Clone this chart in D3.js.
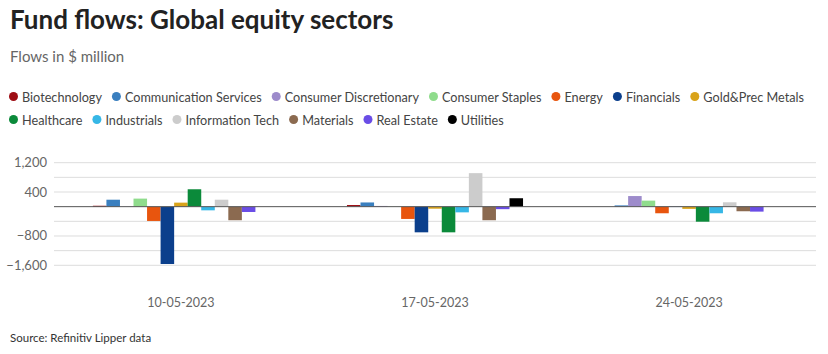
<!DOCTYPE html>
<html>
<head>
<meta charset="utf-8">
<script src="https://cdn.jsdelivr.net/npm/d3@7"></script>
<style>
  body { margin: 0; background: #fff; }
  svg text { font-family: Lato, "Open Sans", sans-serif; }
</style>
</head>
<body>
<div id="chart-area"></div>
<script>
var width = 828, height = 354;

var dates = ["10-05-2023", "17-05-2023", "24-05-2023"];
var sectors = ["Biotechnology", "Communication Services", "Consumer Discretionary", "Consumer Staples",
  "Energy", "Financials", "Gold&Prec Metals", "Healthcare", "Industrials", "Information Tech",
  "Materials", "Real Estate", "Utilities"];
var colors = ["#9e0d14", "#3a7fbf", "#9d8bcb", "#8fdc8c", "#e8550e", "#0b3f8c", "#d9a31a",
  "#0b8a3a", "#36b7e6", "#cccccc", "#8b6a50", "#6a4de6", "#000000"];

// flows in $ million, one value per date
var biotech     = [25, 45, 0];
var commServ    = [190, 115, 35];
var consDisc    = [5, 20, 290];
var consStaples = [220, -5, 165];
var energy      = [-390, -335, -180];
var financials  = [-1565, -700, -10];
var gold        = [110, -55, -60];
var healthcare  = [475, -700, -410];
var industrials = [-100, -155, -180];
var infoTech    = [190, 915, 120];
var materials   = [-370, -370, -125];
var realEstate  = [-145, -68, -135];
var utilities   = [0, 230, 0];

var gridTicks = [1200, 800, 400, 0, -400, -800, -1200, -1600];
var labelTicks = [1200, 400, -800, -1600];

var series = [biotech, commServ, consDisc, consStaples, energy, financials, gold,
  healthcare, industrials, infoTech, materials, realEstate, utilities];

var data = [];
dates.forEach((d, i) => {
  sectors.forEach((s, j) => {
    data.push({date: d, sector: s, value: series[j][i]});
  });
});

var svg = d3.select("#chart-area").append("svg")
  .attr("width", width)
  .attr("height", height);

// title + subtitle
svg.append("text").attr("x", 10).attr("y", 29)
  .attr("font-size", 26).attr("font-weight", 700).attr("fill", "#222")
  .text("Fund flows: Global equity sectors");
svg.append("text").attr("x", 10).attr("y", 62)
  .attr("font-size", 15).attr("fill", "#666")
  .text("Flows in $ million");

// legend (two rows, break before Healthcare), font shrunk so row 1 ends ~805
var color = d3.scaleOrdinal().domain(sectors).range(colors);
var probe = svg.append("text").attr("font-size", 14);
var row1 = 0;
sectors.slice(0, 7).forEach(s => { row1 += probe.text(s).node().getComputedTextLength(); });
probe.remove();
var fixed = 7 * 13 + 6 * 10;
var fs = 14 * Math.min(1, (796 - fixed) / row1);

var lx = 9, ly = 97;
sectors.forEach((s, i) => {
  if (i == 7) { lx = 9; ly = 120; }
  var g = svg.append("g").attr("transform", "translate(" + lx + "," + ly + ")");
  g.append("circle").attr("cx", 4.5).attr("cy", -0.5).attr("r", 4.5).attr("fill", color(s));
  var t = g.append("text").attr("x", 13).attr("y", 5)
    .attr("font-size", fs).attr("fill", "#444").text(s);
  lx += 13 + t.node().getComputedTextLength() + 10;
});

var x0 = d3.scaleBand()
  .domain(dates)
  .range([54, 816])
  .paddingInner(0.307)
  .paddingOuter(0.153);

var x1 = d3.scaleBand()
  .domain(sectors)
  .range([0, x0.bandwidth()]);

var y = d3.scaleLinear()
  .domain([-1600, 1200])
  .range([265.3, 162.7]);

// grid
svg.append("g").selectAll("line")
  .data(gridTicks.filter(d => d != 0))
  .enter().append("line")
  .attr("x1", 54).attr("x2", 816)
  .attr("y1", d => y(d)).attr("y2", d => y(d))
  .attr("stroke", "#dddddd").attr("stroke-width", 1);

// y labels
svg.append("g").selectAll("text")
  .data(labelTicks)
  .enter().append("text")
  .attr("x", 47).attr("y", d => y(d) + 4.5)
  .attr("text-anchor", "end")
  .attr("font-size", 13).attr("fill", "#666")
  .text(d => d3.format(",")(d));

// bars
svg.append("g").selectAll("rect")
  .data(data)
  .enter().append("rect")
  .attr("x", d => x0(d.date) + x1(d.sector))
  .attr("width", x1.bandwidth())
  .attr("y", d => y(Math.max(0, d.value)))
  .attr("height", d => Math.abs(y(d.value) - y(0)))
  .attr("fill", d => color(d.sector));

// zero line
svg.append("line")
  .attr("x1", 54).attr("x2", 816)
  .attr("y1", y(0)).attr("y2", y(0))
  .attr("stroke", "#555").attr("stroke-width", 1);

// x labels
svg.append("g").selectAll("text")
  .data(dates)
  .enter().append("text")
  .attr("x", d => x0(d) + x0.bandwidth() / 2)
  .attr("y", 307)
  .attr("text-anchor", "middle")
  .attr("font-size", 12.5).attr("fill", "#666")
  .text(d => d);

svg.append("text").attr("x", 10).attr("y", 342)
  .attr("font-size", 11.5).attr("fill", "#333")
  .text("Source: Refinitiv Lipper data");
</script>
</body>
</html>
